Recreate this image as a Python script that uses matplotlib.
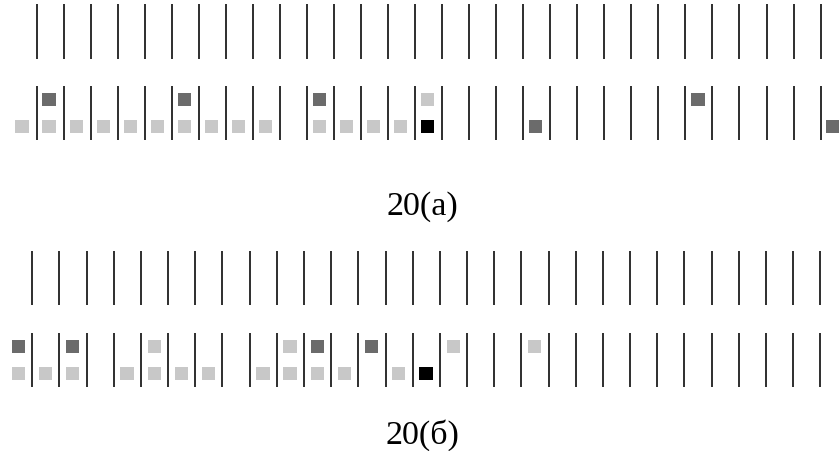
import matplotlib
matplotlib.use("Agg")
import matplotlib.pyplot as plt
from matplotlib.patches import Rectangle

# ---- data: cell indices (cell k lies between line k and line k+1; -1 = left of first line)
n_lines = 30

a_top_dark = [0, 5, 10, 24]
a_top_light = [14]
a_bottom_light = [-1, 0, 1, 2, 3, 4, 5, 6, 7, 8, 10, 11, 12, 13]
a_bottom_dark = [18, 29]
a_bottom_black = [14]

b_top_dark = [-1, 1, 10, 12]
b_top_light = [4, 9, 15, 18]
b_bottom_light = [-1, 0, 1, 3, 4, 5, 6, 8, 9, 10, 11, 13]
b_bottom_dark = []
b_bottom_black = [14]

labels = ["20(а)", "20(б)"]

# ---- styling / layout
W, H = 839, 452
LIGHT, DARK, BLACK = "#c8c8c8", "#6b6b6b", "#000000"
LINE_C = "#1e1e1e"

fig = plt.figure(figsize=(W / 100, H / 100), dpi=100)

panels = [
    dict(x0=36.7, dx=27.03,
         top_lines=(5, 60), bot_lines=(87, 141),
         sq_top=(94, 107.3), sq_bot=(121, 134.3),
         label_y=215,
         sets=[(a_top_dark, "top", DARK), (a_top_light, "top", LIGHT),
               (a_bottom_light, "bot", LIGHT), (a_bottom_dark, "bot", DARK),
               (a_bottom_black, "bot", BLACK)],
         off=0.46),
    dict(x0=32.3, dx=27.17,
         top_lines=(252.3, 306), bot_lines=(334, 388.3),
         sq_top=(340.7, 354.3), sq_bot=(367.7, 381.3),
         label_y=443.3,
         sets=[(b_top_dark, "top", DARK), (b_top_light, "top", LIGHT),
               (b_bottom_light, "bot", LIGHT), (b_bottom_dark, "bot", DARK),
               (b_bottom_black, "bot", BLACK)],
         off=0.49),
]

for i, p in enumerate(panels):
    ax = fig.add_axes([0, 0, 1, 1], label=f"p{i}")
    ax.set_xlim(-p["x0"] / p["dx"], (W - p["x0"]) / p["dx"])
    ax.set_ylim(H, 0)
    ax.axis("off")
    ax.patch.set_alpha(0)
    xs = list(range(n_lines))
    for (y0, y1) in (p["top_lines"], p["bot_lines"]):
        ax.vlines(xs, y0, y1, colors=LINE_C, linewidth=1.3)
    sq_w = 13.3 / p["dx"]
    for cells, row, col in p["sets"]:
        y0, y1 = p["sq_top"] if row == "top" else p["sq_bot"]
        for c in cells:
            cx = c + p["off"]
            ax.add_patch(Rectangle((cx - sq_w / 2, y0), sq_w, y1 - y0,
                                   facecolor=col, edgecolor="none"))
    fig.text(422.5 / W, 1 - p["label_y"] / H, labels[i], ha="center",
             va="baseline", fontsize=24.5, family=["Liberation Serif", "DejaVu Serif"])

fig.savefig("out.png", dpi=100, facecolor="white")
